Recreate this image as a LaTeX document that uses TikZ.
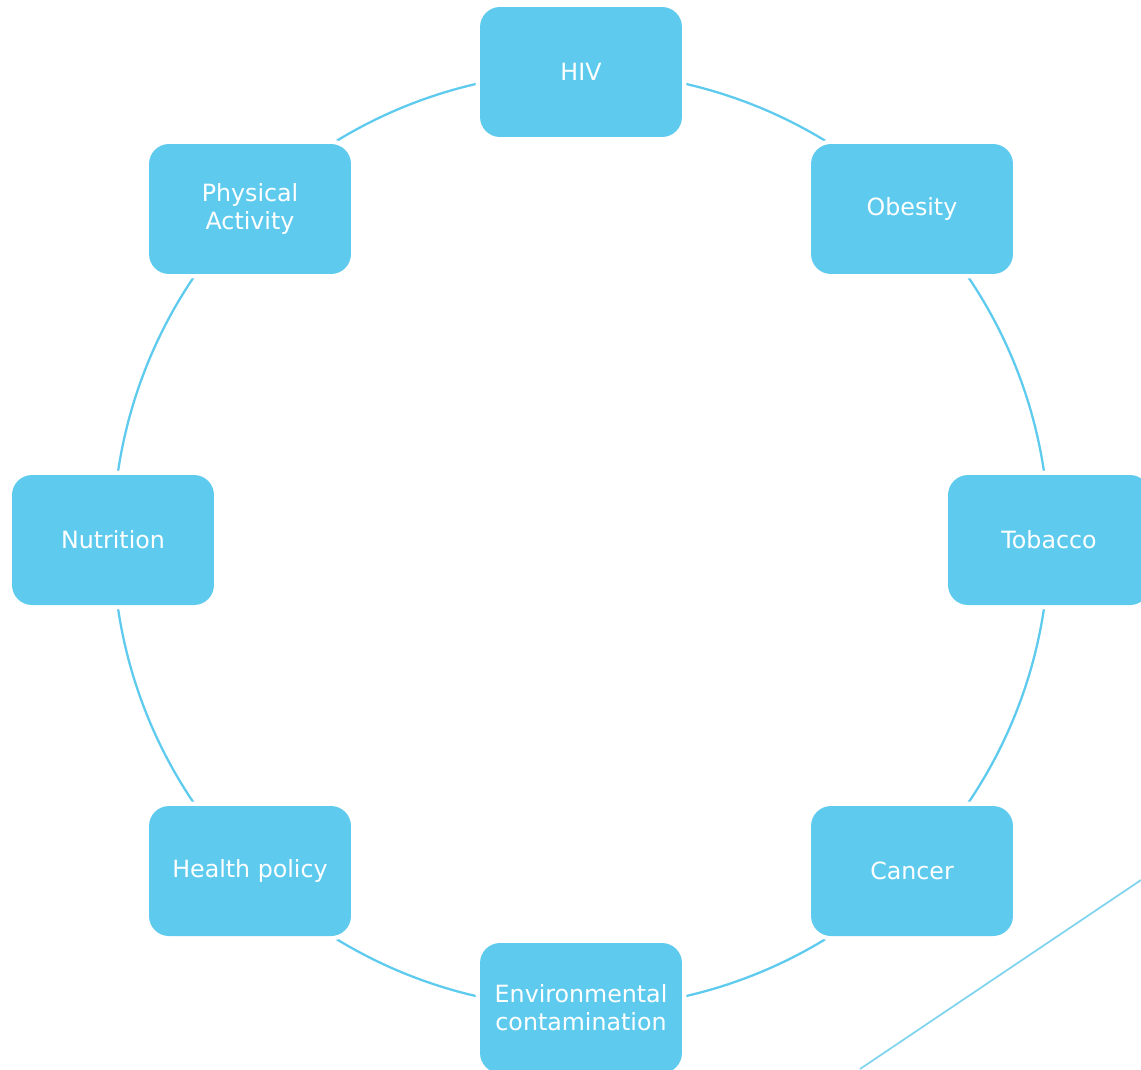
\documentclass[tikz,border=0pt]{standalone}
\usepackage{fontspec}
\setmainfont{DejaVu Sans}
\usetikzlibrary{backgrounds}

\definecolor{topicblue}{RGB}{94,203,238}
\definecolor{cornerblue}{RGB}{128,212,238}

\tikzstyle{topic}=[shape=rectangle,rounded corners=0.4cm,fill=topicblue,text=white,minimum width=4.04cm,minimum height=2.6cm,align=center,font=\fontsize{13.5}{16}\selectfont,preaction={draw=white,line width=5pt}]
\tikzstyle{ringedge}=[draw=topicblue,line width=1.3pt,bend left=22.5,looseness=0.885]
\tikzstyle{cornerline}=[draw=cornerblue,line width=1pt]

\begin{document}
\begin{tikzpicture}[x=0.02cm,y=0.02cm]
\useasboundingbox (0,0) rectangle (1141,-1069);
% right half
\node[topic] (hiv) at (581,-72) {HIV};
\node[topic] (obesity) at (912,-209) {Obesity};
\node[topic] (tobacco) at (1049,-540) {Tobacco};
\node[topic] (cancer) at (912,-871) {Cancer};
% left half
\node[topic] (envcont) at (581,-1008) {Environmental\\contamination};
\node[topic] (healthpol) at (250,-871) {Health policy};
\node[topic] (nutrition) at (113,-540) {Nutrition};
\node[topic] (physact) at (250,-209) {Physical\\Activity};
% ring
\begin{scope}[on background layer]
\draw[ringedge] (hiv.center) to (obesity.center);
\draw[ringedge] (obesity.center) to (tobacco.center);
\draw[ringedge] (tobacco.center) to (cancer.center);
\draw[ringedge] (cancer.center) to (envcont.center);
\draw[ringedge] (envcont.center) to (healthpol.center);
\draw[ringedge] (healthpol.center) to (nutrition.center);
\draw[ringedge] (nutrition.center) to (physact.center);
\draw[ringedge] (physact.center) to (hiv.center);
\end{scope}
% corner
\draw[cornerline] (1141,-880) -- (860,-1069);
\end{tikzpicture}
\end{document}
